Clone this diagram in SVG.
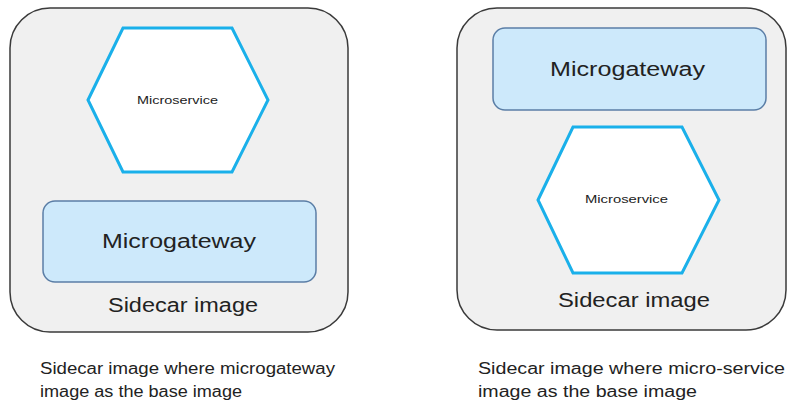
<svg xmlns="http://www.w3.org/2000/svg" width="788" height="404" viewBox="0 0 788 404">
<style>
.outer{fill:#f0f0f0;stroke:#3a3a3a;stroke-width:1.5}
.gw{fill:#cde9fb;stroke:#5b7ea6;stroke-width:1.5}
.hex{fill:#ffffff;stroke:#1ab0ea;stroke-width:3}
text{font-family:"Liberation Sans",Arial,sans-serif;fill:#222}
.big{font-size:20px}
.small{font-size:10px}
.cap{font-size:16px}
</style>
<rect width="788" height="404" fill="#ffffff"/>
<g id="left-sidecar">
<rect class="outer" x="10" y="8" width="338" height="324" rx="40"/>
<text class="big" x="108" y="312" textLength="150" lengthAdjust="spacingAndGlyphs">Sidecar image</text>
</g>
<g id="left-microservice">
<polygon class="hex" points="88,100 123,28 232,28 268,100 232,172 123,172"/>
<text class="small" x="137" y="104" textLength="81" lengthAdjust="spacingAndGlyphs">Microservice</text>
</g>
<g id="left-microgateway">
<rect class="gw" x="43" y="201" width="273" height="81" rx="12"/>
<text class="big" x="102" y="248" textLength="154" lengthAdjust="spacingAndGlyphs">Microgateway</text>
</g>
<g id="right-sidecar">
<rect class="outer" x="457" y="8" width="329" height="322" rx="40"/>
<text class="big" x="558" y="307" textLength="152" lengthAdjust="spacingAndGlyphs">Sidecar image</text>
</g>
<g id="right-microgateway">
<rect class="gw" x="493" y="28" width="273" height="82" rx="12"/>
<text class="big" x="550" y="76" textLength="155" lengthAdjust="spacingAndGlyphs">Microgateway</text>
</g>
<g id="right-microservice">
<polygon class="hex" points="538,200 573,127 682,127 719,200 682,273 573,273"/>
<text class="small" x="585" y="203" textLength="83" lengthAdjust="spacingAndGlyphs">Microservice</text>
</g>
<g id="connectors"></g>
<g id="captions">
<text class="cap" x="40" y="374" textLength="295" lengthAdjust="spacingAndGlyphs">Sidecar image where microgateway</text>
<text class="cap" x="40" y="397" textLength="202" lengthAdjust="spacingAndGlyphs">image as the base image</text>
<text class="cap" x="478" y="374" textLength="307" lengthAdjust="spacingAndGlyphs">Sidecar image where micro-service</text>
<text class="cap" x="478" y="397" textLength="219" lengthAdjust="spacingAndGlyphs">image as the base image</text>
</g>
</svg>
